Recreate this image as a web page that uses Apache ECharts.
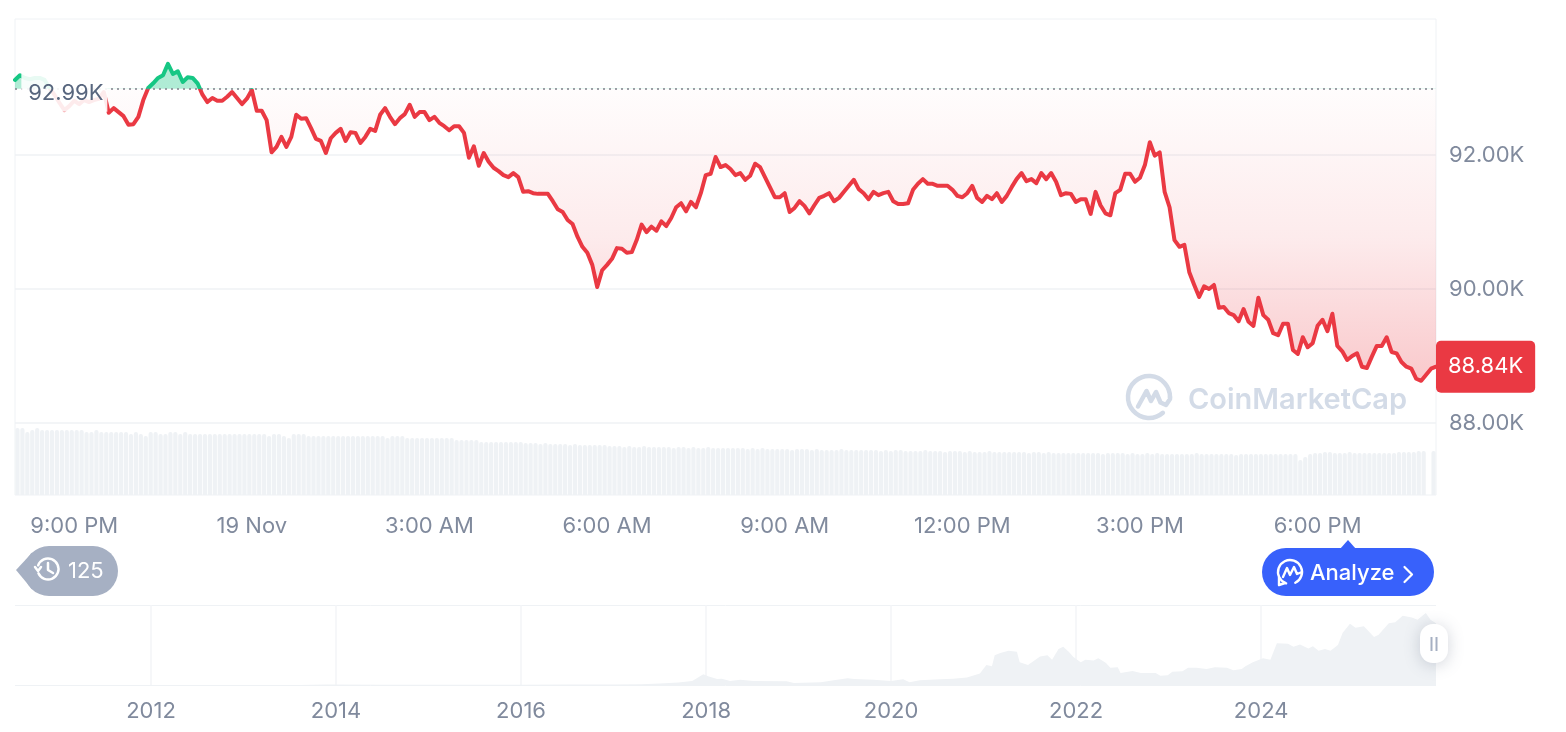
<!DOCTYPE html>
<html>
<head>
<meta charset="utf-8">
<style>html,body{margin:0;padding:0;background:#fff}#c{width:1566px;height:732px}</style>
<script src="https://cdn.jsdelivr.net/npm/echarts@6/dist/echarts.min.js"></script>
</head>
<body>
<div id="c"></div>
<script>
// Price in thousands of USD, one reading every 5 minutes from 8:00 PM to 8:00 PM
var priceK = [
93.12,93.19,93.15,93.13,93.15,93.15,93.12,93.00,92.90,92.78,92.67,92.73,92.81,92.76,92.82,92.79,92.82,92.84,92.94,92.63,
92.70,92.64,92.58,92.45,92.46,92.57,92.82,93.00,93.07,93.15,93.19,93.36,93.21,93.25,93.09,93.16,93.15,93.07,92.90,92.79,
92.85,92.81,92.81,92.87,92.94,92.85,92.76,92.84,92.97,92.66,92.66,92.52,92.04,92.12,92.27,92.12,92.27,92.60,92.54,92.55,
92.40,92.24,92.21,92.03,92.25,92.33,92.39,92.21,92.34,92.33,92.18,92.27,92.39,92.36,92.60,92.70,92.57,92.46,92.55,92.61,
92.75,92.57,92.64,92.64,92.52,92.57,92.48,92.43,92.37,92.43,92.43,92.33,91.96,92.13,91.84,92.03,91.90,91.81,91.76,91.70,
91.67,91.73,91.67,91.45,91.46,91.43,91.42,91.42,91.42,91.31,91.19,91.15,91.03,90.97,90.78,90.63,90.54,90.36,90.03,90.28,
90.36,90.45,90.61,90.60,90.54,90.55,90.73,90.96,90.85,90.93,90.87,91.01,90.94,91.06,91.22,91.28,91.16,91.30,91.22,91.43,
91.70,91.72,91.97,91.82,91.85,91.79,91.70,91.73,91.63,91.69,91.87,91.82,91.67,91.52,91.37,91.37,91.43,91.15,91.21,91.31,
91.24,91.13,91.25,91.36,91.39,91.43,91.31,91.36,91.45,91.54,91.63,91.49,91.43,91.34,91.45,91.40,91.43,91.45,91.31,91.27,
91.27,91.28,91.48,91.57,91.64,91.57,91.57,91.54,91.54,91.54,91.48,91.39,91.37,91.43,91.54,91.36,91.30,91.39,91.34,91.43,
91.30,91.39,91.52,91.64,91.73,91.61,91.64,91.58,91.73,91.64,91.73,91.60,91.40,91.43,91.42,91.30,91.34,91.34,91.12,91.45,
91.25,91.13,91.10,91.43,91.48,91.72,91.72,91.60,91.66,91.85,92.19,91.99,92.04,91.45,91.22,90.73,90.63,90.66,90.25,90.06,
89.88,90.04,90.00,90.06,89.72,89.73,89.64,89.61,89.52,89.70,89.51,89.45,89.87,89.61,89.54,89.34,89.31,89.48,89.48,89.09,
89.03,89.28,89.13,89.19,89.45,89.54,89.37,89.63,89.15,89.07,88.94,89.00,89.04,88.84,88.82,88.99,89.15,89.15,89.28,89.06,
89.04,88.91,88.84,88.81,88.66,88.63,88.72,88.81,88.84
];
// Trading volume (relative units), 288 five-minute buckets between the price readings
var volume = [
67,67,63,65,67,65,65,65,65,65,65,65,65,65,63,63,65,63,63,63,63,63,63,61,63,61,59,63,63,61,61,63,63,61,63,61,61,61,61,
61,61,61,61,61,61,61,61,61,61,61,61,59,61,61,59,57,61,61,61,59,59,59,59,59,59,59,59,59,59,59,59,59,59,59,59,57,59,59,59,
57,57,57,57,57,57,57,57,57,57,55,55,55,55,55,53,53,53,53,53,53,53,53,53,
52,52,52,51,52,51,51,51,51,50,51,50,50,50,50,50,50,
49,49,49,48,49,48,48,49,48,48,48,48,48,47,48,48,47,48,47,47,48,47,47,47,47,47,47,47,46,47,
46,47,46,46,46,46,46,45,46,46,46,45,46,45,45,45,45,46,45,45,45,45,45,45,45,44,45,44,45,45,
44,44,44,44,45,44,44,44,43,44,44,44,43,44,43,43,43,44,43,43,43,43,43,43,43,42,43,43,42,43,
42,42,42,42,42,42,42,42,42,42,41,42,42,42,42,41,42,41,41,42,41,42,41,41,41,41,41,41,41,42,
41,41,41,41,41,41,41,40,41,41,41,41,41,41,41,41,41,41,41,41,35,38,41,42,42,43,43,42,42,42,
43,42,42,42,42,42,42,42,42,42,43,43,43,43,44,44,null,44
];
var timeLabels = {12:'9:00 PM',48:'19 Nov',84:'3:00 AM',120:'6:00 AM',156:'9:00 AM',192:'12:00 PM',228:'3:00 PM',264:'6:00 PM'};
var categories = priceK.map(function(_, i){ return timeLabels[i] || ''; });
var volumeCategories = volume.map(function(_, i){ return String(i); });
var priceTicks = [88, 90, 92];
var baseline = 92.99;
var lastPrice = 88.84;

// All-time overview
var overviewYears = [2010.53,2011.4,2012,2012.8,2013.3,2013.6,2013.9,2014.5,2015,2016,2016.5,2017,2017.3,2017.5,2017.7,2017.85,2017.9,
2017.97,2018.03,2018.12,2018.17,2018.26,2018.37,2018.51,2018.87,2018.95,2019.24,2019.38,2019.53,2019.60,2019.81,2020.00,2020.13,2020.20,2020.31,2020.53,2020.67,2020.82,2020.96,
2021.03,2021.09,2021.12,2021.18,2021.27,2021.36,2021.39,2021.48,2021.61,2021.69,2021.74,2021.81,2021.86,2021.92,2021.97,2022.05,2022.10,2022.19,2022.24,2022.32,2022.37,2022.45,2022.48,
2022.61,2022.70,2022.86,2022.91,2022.99,2023.04,2023.15,2023.21,2023.30,2023.41,2023.50,2023.63,2023.70,2023.79,2023.83,2023.91,2024.02,2024.10,2024.17,2024.29,2024.35,2024.42,2024.51,2024.56,2024.62,2024.69,2024.75,2024.83,2024.88,
2024.96,2025.02,2025.11,2025.22,2025.27,2025.38,2025.45,2025.53,2025.63,2025.69,2025.78,2025.83,2025.89];
var overviewPrices = [0.06,0.03,0.01,0.01,0.2,0.1,1,0.6,0.25,0.45,0.7,0.9,1.2,2.5,4.5,7,12,
19,15,10.5,11,7,9,7,6.5,3.5,5,8.5,12,10.5,9,7,10,5,8.5,10,11,13,20,
35,33,52,56,60,58,40,35,50,52,44,63,67,58,49,40,44,43,47,39,30,31,21,
24.5,21,21,16,17,23,24,30,30,28,31,30,26,28,33,40,47,44,73,72,67,71,64,68,60,63,60,70,91,
107,100,103,84,88,108,110,121,118,114,126,114,108];
var yearTicks = [2012,2014,2016,2018,2020,2022,2024];

var RED='#ea3943', GREEN='#16c784', GREY='#808a9d', LINE='#eff2f5', BAR='#eff2f5', FONT='Inter';
var chart = echarts.init(document.getElementById('c'), null, {renderer:'canvas'});
var wm='#d3dbe7';
function stroke(color,w){return {fill:null,stroke:color,lineWidth:w,lineCap:'round',lineJoin:'round'};}
chart.setOption({
  animation:false,
  backgroundColor:'#fff',
  grid:[
    {left:15,top:19,width:1421,height:476,show:true,borderColor:LINE,borderWidth:1,backgroundColor:'transparent'},
    {left:15,top:423,width:1421,height:72},
    {left:15,top:605,width:1421,height:80}
  ],
  xAxis:[
    {gridIndex:0,type:'category',boundaryGap:false,data:categories,
      axisLine:{show:false},axisTick:{show:false},splitLine:{show:false},
      axisLabel:{interval:function(i){return !!timeLabels[i];},color:GREY,fontFamily:FONT,fontSize:22,margin:20,hideOverlap:false,showMinLabel:true,showMaxLabel:true}},
    {gridIndex:1,type:'category',boundaryGap:true,data:volumeCategories,show:false},
    {gridIndex:2,type:'value',min:2010.53,max:2025.89,
      axisLine:{show:false},axisTick:{show:false,customValues:yearTicks},
      splitLine:{show:true,lineStyle:{color:'#f3f5f7',width:1.5}},
      axisLabel:{customValues:yearTicks,color:GREY,fontFamily:FONT,fontSize:22,margin:15,formatter:function(v){return String(v);}}}
  ],
  yAxis:[
    {gridIndex:0,type:'value',position:'right',min:86.925,max:94.03,
      axisLine:{show:false},axisTick:{show:false,customValues:priceTicks},
      splitLine:{show:true,lineStyle:{color:LINE,width:1.5}},
      axisLabel:{customValues:priceTicks,color:GREY,fontFamily:FONT,fontSize:22,margin:13,formatter:function(v){return v.toFixed(2)+'K';}}},
    {gridIndex:1,type:'value',min:0,max:72,show:false},
    {gridIndex:2,type:'value',min:0,max:140,interval:140,
      axisLine:{show:false},axisTick:{show:false},axisLabel:{show:false},
      splitLine:{show:true,lineStyle:{color:LINE,width:1}}}
  ],
  visualMap:[{show:false,type:'piecewise',seriesIndex:0,dimension:1,
    pieces:[{gt:80,lte:baseline,color:RED},{gt:baseline,lte:100,color:GREEN}]}],
  series:[
    {type:'line',xAxisIndex:0,yAxisIndex:0,data:priceK,symbol:'none',smooth:false,z:4,
      lineStyle:{width:4,join:'round',cap:'round'},
      areaStyle:{origin:baseline,opacity:1,color:{type:'linear',global:true,x:0,y:19,x2:0,y2:385,colorStops:[
        {offset:0,color:'rgba(22,199,132,.34)'},
        {offset:0.191,color:'rgba(22,199,132,.34)'},
        {offset:0.191,color:'rgba(234,57,67,.01)'},
        {offset:0.3,color:'rgba(234,57,67,.035)'},
        {offset:0.6,color:'rgba(234,57,67,.10)'},
        {offset:1,color:'rgba(234,57,67,.28)'}]}},
      markLine:{silent:true,symbol:'none',z:5,animation:false,label:{show:false},
        lineStyle:{type:[2,4],color:'#80808a',width:1.5},data:[{yAxis:baseline}]},
      markPoint:{silent:true,z:7,animation:false,data:[
        {coord:[10,baseline],symbol:'rect',symbolSize:[86,38],symbolOffset:[0,4],
          itemStyle:{color:'rgba(255,255,255,.9)'},
          label:{show:true,position:'inside',offset:[1.5,1],formatter:baseline.toFixed(2)+'K',color:'#58667e',fontFamily:FONT,fontSize:22}},
        {coord:[288,lastPrice],symbol:'rect',symbolSize:1,
          itemStyle:{color:'rgba(0,0,0,0)'},
          label:{show:true,position:'right',distance:-0.5,formatter:lastPrice.toFixed(2)+'K',color:'#fff',fontFamily:FONT,fontSize:22,
            backgroundColor:RED,borderRadius:5,padding:[15,12],lineHeight:22}}
      ]}},
    {type:'bar',xAxisIndex:1,yAxisIndex:1,data:volume,barWidth:4.2,itemStyle:{color:BAR,borderRadius:[2,2,0,0]},silent:true,z:1},
    {type:'line',xAxisIndex:2,yAxisIndex:2,data:overviewYears.map(function(y,i){return [y,overviewPrices[i]];}),symbol:'none',
      lineStyle:{width:0},areaStyle:{color:'#eff2f5',opacity:1},silent:true,z:2}
  ],
  graphic:[
    // watermark
    {type:'arc',z:1,silent:true,shape:{cx:1149,cy:397,r:21,startAngle:0.85,endAngle:6.283,clockwise:true},style:stroke(wm,4.5)},
    {type:'polyline',z:1,silent:true,shape:{points:[[1170,397],[1170,399],[1166,405],[1160.5,402.5],[1156,392],[1151,401],[1146.5,391],[1138,406.5]]},style:stroke(wm,4.5)},
    {type:'text',z:1,silent:true,x:1188,y:400,style:{text:'CoinMarketCap',fill:wm,font:'600 29px Inter',textAlign:'left',textVerticalAlign:'middle'}},
    // history badge
    {type:'polygon',z:20,silent:true,shape:{points:[[16,570],[32,552.7],[32,589.3]]},style:{fill:'#a6b0c3'}},
    {type:'rect',z:20,silent:true,shape:{x:24,y:546,width:94,height:50,r:25},style:{fill:'#a6b0c3'}},
    {type:'arc',z:21,silent:true,shape:{cx:48,cy:569,r:10.5,startAngle:3.5,endAngle:9.0,clockwise:true},style:stroke('#fff',2.5)},
    {type:'polyline',z:21,silent:true,shape:{points:[[35,567],[38,571],[41,567]]},style:stroke('#fff',2.5)},
    {type:'polyline',z:21,silent:true,shape:{points:[[48,563],[48,570],[53,573]]},style:stroke('#fff',2.5)},
    {type:'text',z:21,silent:true,x:68,y:571,style:{text:'125',fill:'#fff',font:'22px Inter',textAlign:'left',textVerticalAlign:'middle'}},
    // analyze button
    {type:'polygon',z:20,silent:true,shape:{points:[[1348,540],[1340,549],[1356,549]]},style:{fill:'#3861fb'}},
    {type:'rect',z:20,silent:true,shape:{x:1262,y:548,width:172,height:48,r:24},style:{fill:'#3861fb'}},
    {type:'arc',z:21,silent:true,shape:{cx:1290,cy:572,r:12,startAngle:1.9,endAngle:7.4,clockwise:true},style:stroke('#fff',2.4)},
    {type:'polyline',z:21,silent:true,shape:{points:[[1285,583],[1279,585],[1279,577]]},style:stroke('#fff',2.4)},
    {type:'polyline',z:21,silent:true,shape:{points:[[1283,577],[1287,568],[1290,575],[1294,567],[1297,574],[1302,572]]},style:stroke('#fff',2.4)},
    {type:'text',z:21,silent:true,x:1310,y:573,style:{text:'Analyze',fill:'#fff',font:'500 22px Inter',textAlign:'left',textVerticalAlign:'middle'}},
    {type:'polyline',z:21,silent:true,shape:{points:[[1404.5,567],[1412,574.5],[1404.5,582]]},style:stroke('#fff',2.2)},
    // slider handle
    {type:'rect',z:20,silent:true,shape:{x:1420,y:624,width:28,height:39,r:13},style:{fill:'#fff',shadowBlur:16,shadowColor:'rgba(88,102,126,.28)',shadowOffsetY:2}},
    {type:'rect',z:21,silent:true,shape:{x:1430.5,y:637,width:2,height:14},style:{fill:'#a6b0c3'}},
    {type:'rect',z:21,silent:true,shape:{x:1435.5,y:637,width:2,height:14},style:{fill:'#a6b0c3'}}
  ]
});
</script>
</body>
</html>
